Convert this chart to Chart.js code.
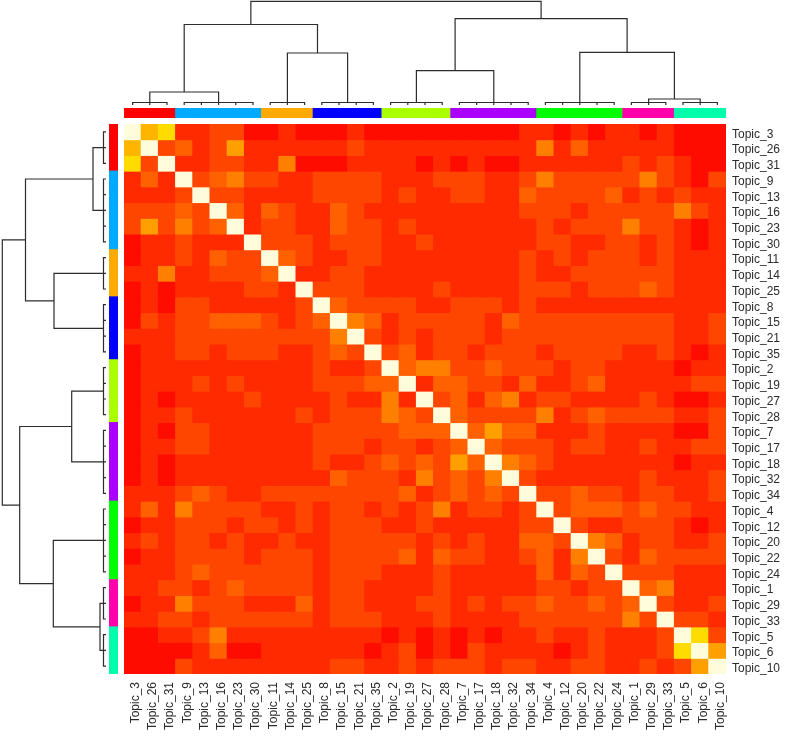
<!DOCTYPE html>
<html>
<head>
<meta charset="utf-8">
<title>Topic heatmap</title>
<script src="https://cdn.jsdelivr.net/npm/chart.js@4/dist/chart.umd.min.js"></script>
<style>
    html, body { margin: 0; background: #fff; }
    canvas { position: absolute; display: block; filter: blur(0.4px); }
    #heat { left: 124px; top: 124px; }
    #top_tree { left: 124px; top: 0; }
    #left_tree { left: 0; top: 124px; }
    #top_band { left: 124px; top: 108px; }
    #left_band { left: 109px; top: 124px; }
</style>
</head>
<body>
<canvas id="heat" width="663" height="612"></canvas>
<canvas id="top_tree" width="602" height="105"></canvas>
<canvas id="left_tree" width="106" height="550"></canvas>
<canvas id="top_band" width="602" height="10"></canvas>
<canvas id="left_band" width="9" height="550"></canvas>
<script>
const topics = ['Topic_3', 'Topic_26', 'Topic_31', 'Topic_9', 'Topic_13', 'Topic_16', 'Topic_23', 'Topic_30', 'Topic_11',
    'Topic_14', 'Topic_25', 'Topic_8', 'Topic_15', 'Topic_21', 'Topic_35', 'Topic_2', 'Topic_19', 'Topic_27', 'Topic_28',
    'Topic_7', 'Topic_17', 'Topic_18', 'Topic_32', 'Topic_34', 'Topic_4', 'Topic_12', 'Topic_20', 'Topic_22', 'Topic_24',
    'Topic_1', 'Topic_29', 'Topic_33', 'Topic_5', 'Topic_6', 'Topic_10'];

// colour level of each cell, 8 is the diagonal
const heatLevels = [
    [8,6,7,1,1,2,2,0,0,1,0,0,0,1,0,0,0,0,0,0,0,0,0,1,1,0,1,0,1,1,0,1,0,0,0],
    [6,8,2,3,1,2,5,1,1,1,1,1,1,2,1,1,1,1,1,1,1,1,1,1,4,1,3,1,1,1,1,1,0,0,0],
    [7,2,8,1,1,2,2,1,1,4,0,0,0,1,1,1,1,0,1,0,1,0,0,1,1,1,1,1,1,2,1,2,1,0,0],
    [1,3,1,8,2,3,4,2,2,1,1,2,2,2,2,1,1,1,2,2,2,1,1,2,4,2,2,2,2,2,4,2,1,0,2],
    [1,1,1,2,8,2,2,1,1,1,1,2,2,2,2,1,2,1,1,2,2,1,1,3,2,2,2,2,3,1,2,1,2,1,1],
    [2,2,2,3,2,8,3,1,3,2,1,1,3,2,1,1,1,1,1,1,1,1,1,2,2,2,1,2,2,2,2,2,4,2,1],
    [2,5,2,4,2,3,8,1,2,2,1,1,3,2,2,1,2,1,1,1,1,1,1,1,2,1,2,2,2,4,2,2,1,0,1],
    [0,1,1,2,1,1,1,8,2,2,2,1,2,2,2,1,1,2,1,1,1,1,1,1,2,2,1,1,2,2,1,2,1,0,1],
    [0,1,1,2,1,3,2,2,8,3,2,1,1,2,2,1,1,1,1,1,1,1,1,2,1,2,1,2,2,2,1,2,1,1,1],
    [1,1,4,1,1,2,2,2,3,8,1,1,2,2,1,1,1,1,1,1,1,1,1,2,1,1,2,2,2,2,2,2,1,1,1],
    [0,1,0,1,1,1,1,2,2,1,8,2,2,2,1,1,1,1,2,1,1,1,1,2,2,2,1,2,2,2,3,2,1,1,1],
    [0,1,0,2,2,1,1,1,1,1,2,8,3,2,2,2,2,1,1,2,2,2,1,2,1,1,1,1,1,1,1,1,1,1,1],
    [0,2,1,2,2,3,3,3,2,1,2,3,8,4,3,1,2,2,2,2,2,1,3,2,2,2,2,2,2,2,2,2,1,1,2],
    [1,1,1,2,2,2,2,2,2,2,2,2,4,8,2,1,2,1,2,2,2,1,2,2,2,2,2,2,2,2,2,2,1,1,2],
    [0,1,1,2,2,1,2,2,2,1,1,2,3,2,8,2,3,1,2,2,1,2,2,2,1,2,2,2,2,1,1,2,1,0,1],
    [0,1,1,1,1,1,1,1,1,1,1,2,1,1,2,8,3,4,4,2,2,3,2,2,2,1,2,2,1,1,1,1,0,1,1],
    [0,1,1,1,2,1,2,1,1,1,1,2,2,2,3,3,8,1,3,3,2,2,1,3,1,1,2,3,1,1,1,1,1,2,2],
    [0,1,0,1,1,1,1,2,1,1,1,1,2,1,1,4,1,8,2,3,1,3,4,1,2,2,1,1,1,1,2,1,0,0,1],
    [0,1,1,2,1,1,1,1,1,1,2,1,2,2,2,4,3,2,8,3,2,2,2,2,4,1,2,3,2,2,2,2,1,1,2],
    [0,1,0,2,2,1,1,1,1,1,1,2,2,2,2,2,3,3,3,8,3,5,3,3,1,1,1,2,1,1,1,1,0,0,2],
    [0,1,1,2,2,1,1,1,1,1,1,2,2,2,1,2,2,1,2,3,8,3,2,2,2,1,2,2,1,1,2,1,1,2,2],
    [0,1,0,1,1,1,1,1,1,1,1,2,1,1,2,3,2,3,2,5,3,8,4,3,2,1,1,1,1,1,1,1,0,1,1],
    [0,1,0,1,1,1,1,1,1,1,1,1,3,2,2,2,1,4,2,3,2,4,8,2,1,1,1,1,1,1,2,1,1,1,2],
    [1,1,1,2,3,2,1,1,2,2,2,2,2,2,2,2,3,1,2,3,2,3,2,8,2,2,3,2,2,1,2,2,1,1,2],
    [1,3,1,4,2,2,2,2,1,1,2,1,2,2,1,2,1,2,4,1,2,2,1,2,8,2,3,3,3,2,3,2,2,1,1],
    [0,1,1,2,2,2,1,2,2,1,2,1,2,2,2,1,1,2,1,1,1,1,1,2,2,8,2,1,1,2,2,2,1,0,1],
    [1,2,1,2,2,1,2,1,1,2,1,1,2,2,2,2,2,1,2,1,2,1,1,3,3,2,8,4,3,1,2,2,1,1,2],
    [0,1,1,2,2,2,2,1,2,2,2,1,2,2,2,2,3,1,3,2,2,1,1,2,3,1,4,8,2,1,3,2,2,2,2],
    [1,1,1,2,3,2,2,2,2,2,2,1,2,2,2,1,1,1,2,1,1,1,1,1,3,1,3,2,8,2,2,2,1,1,1],
    [1,1,2,2,1,2,3,2,2,2,2,1,2,2,1,1,1,1,2,1,1,1,1,1,2,2,1,2,2,8,3,4,1,1,1],
    [0,1,1,4,2,2,2,1,1,1,3,1,2,2,1,1,1,2,2,1,2,1,2,2,3,2,2,3,2,3,8,2,1,1,2],
    [1,1,2,2,1,2,2,2,2,2,2,1,2,2,2,1,1,1,2,1,1,1,1,2,2,2,2,2,2,4,2,8,2,2,1],
    [0,0,1,1,2,4,1,1,1,1,1,1,1,1,1,0,1,0,1,0,1,0,1,1,2,1,1,2,1,1,1,2,8,7,2],
    [0,0,0,0,1,3,0,0,1,1,1,1,1,1,0,1,2,0,1,0,2,1,1,1,1,0,1,2,1,1,1,2,7,8,5],
    [0,0,0,2,1,1,1,1,1,1,1,1,2,2,1,1,2,1,2,2,2,1,2,2,1,1,2,2,1,1,2,1,2,5,8]
];
const heatPalette = ['#ff0c00', '#ff2a00', '#ff4600', '#ff6000', '#ff8000', '#ffa000', '#ffb400', '#ffdc00', '#fffcdc'];

// clusters along both axes
const clusterSizes = [3, 5, 3, 4, 4, 5, 5, 3, 3];
const clusterColors = ['#ff0000', '#00aaff', '#ffaa00', '#0000ff', '#aaff00', '#aa00ff', '#00ff00', '#ff00aa', '#00ffaa'];
const leafHeight = 2.5;

// dendrogram joins above the clusters: child positions, child heights, join height
const joinFrom = [1.5, 9.5, 3.5, 17, 30.5, 26.5, 19.25, 7.375];
const joinTo = [5.5, 13, 11.25, 21.5, 33.5, 32, 29.25, 24.25];
const joinFromHeight = [2.5, 2.5, 13, 2.5, 2.5, 2.5, 34.3, 80.5];
const joinToHeight = [2.5, 2.5, 52, 2.5, 2.5, 6, 52.7, 86.3];
const joinHeight = [13, 52, 80.5, 34.3, 6, 52.7, 86.3, 103.7];

const rowIndex = topics.map((t, i) => i);
const bandColors = clusterSizes.flatMap((size, i) => Array(size).fill(clusterColors[i]));

Chart.defaults.animation = false;
Chart.defaults.responsive = false;
Chart.defaults.events = [];
Chart.defaults.plugins.legend.display = false;
Chart.defaults.plugins.tooltip.enabled = false;
Chart.defaults.font.family = '"Liberation Sans", Arial, sans-serif';
Chart.defaults.font.size = 12;
Chart.defaults.color = '#2b2b2b';

const rowDatasets = heatLevels.map((row, r) => ({
    data: row.map(() => [r, r + 1]),
    backgroundColor: row.map(level => heatPalette[level]),
    borderWidth: 0,
    inflateAmount: 0.5,
    barPercentage: 1,
    categoryPercentage: 1,
    grouped: false
}));

// the plot has to fill the canvas exactly, so no room for overhanging tick labels
function noOverhang(scale) {
    scale.paddingTop = 0;
    scale.paddingBottom = 0;
    scale.paddingLeft = 0;
    scale.paddingRight = 0;
}

new Chart(document.getElementById('heat'), {
    type: 'bar',
    data: { labels: topics, datasets: rowDatasets },
    options: {
        layout: { padding: 0 },
        scales: {
            x: {
                grid: { display: false, drawTicks: false },
                border: { display: false },
                ticks: { autoSkip: false, minRotation: 90, maxRotation: 90, padding: 8, labelOffset: 3 },
                afterFit: scale => { scale.height = 62; noOverhang(scale); }
            },
            y: {
                position: 'right',
                reverse: true,
                min: 0,
                max: topics.length,
                grid: { display: false, drawTicks: false },
                border: { display: false },
                afterBuildTicks: scale => { scale.ticks = rowIndex.map(i => ({ value: i + 0.5 })); },
                ticks: { autoSkip: false, padding: 6, labelOffset: 2.5, callback: value => topics[value - 0.5] },
                afterFit: scale => { scale.width = 61; noOverhang(scale); }
            }
        }
    }
});

// horizontal (top) or mirrored (left) point for a tree position and height
function treeChart(canvasId, place, xScale, yScale) {
    const datasets = [];
    const line = points => datasets.push({
        data: points,
        showLine: true,
        pointRadius: 0,
        borderWidth: 1.2,
        borderColor: '#2c2c2c',
        borderJoinStyle: 'miter',
        tension: 0,
        clip: false
    });
    let first = 0;
    clusterSizes.forEach(size => {
        const points = [];
        for (let i = first; i < first + size; i++) {
            points.push(place(i + 0.5, leafHeight), place(i + 0.5, 0), place(i + 0.5, leafHeight));
        }
        line(points);
        first += size;
    });
    joinHeight.forEach((h, i) => line([
        place(joinFrom[i], joinFromHeight[i]),
        place(joinFrom[i], h),
        place(joinTo[i], h),
        place(joinTo[i], joinToHeight[i])
    ]));
    new Chart(document.getElementById(canvasId), {
        type: 'scatter',
        data: { datasets: datasets },
        options: { layout: { padding: 0 }, scales: { x: xScale, y: yScale } }
    });
}

const cellAxis = { type: 'linear', display: false, min: 0, max: topics.length };

treeChart('top_tree', (pos, h) => ({ x: pos, y: h }),
    cellAxis,
    { type: 'linear', display: false, min: 0, max: 105 });
treeChart('left_tree', (pos, h) => ({ x: h, y: pos }),
    { type: 'linear', display: false, min: 0, max: 106, reverse: true },
    { ...cellAxis, reverse: true });

new Chart(document.getElementById('top_band'), {
    type: 'bar',
    data: { labels: topics, datasets: [{
        data: topics.map(() => [0, 1]),
        backgroundColor: bandColors,
        borderWidth: 0,
        barPercentage: 1,
        categoryPercentage: 1,
        inflateAmount: 0.5
    }] },
    options: {
        layout: { padding: 0 },
        scales: { x: { display: false }, y: { display: false, min: 0, max: 1 } }
    }
});

new Chart(document.getElementById('left_band'), {
    type: 'bar',
    data: { labels: topics, datasets: [{
        data: topics.map(() => [0, 1]),
        backgroundColor: bandColors,
        borderWidth: 0,
        barPercentage: 1,
        categoryPercentage: 1,
        inflateAmount: 0.5
    }] },
    options: {
        indexAxis: 'y',
        layout: { padding: 0 },
        scales: { y: { display: false }, x: { display: false, min: 0, max: 1 } }
    }
});
</script>
</body>
</html>
